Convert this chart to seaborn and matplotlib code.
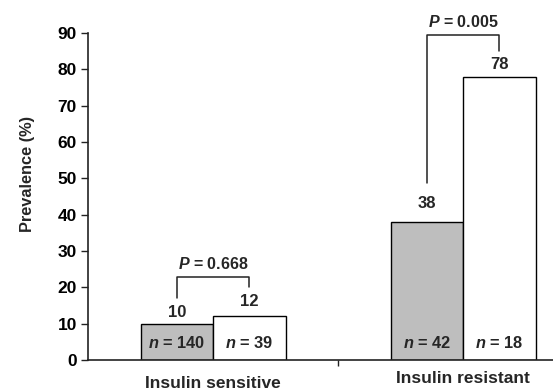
import pandas as pd
import matplotlib.pyplot as plt
import seaborn as sns

# Data
categories = ["Insulin sensitive", "Insulin resistant"]
groups = ["A", "B"]
prevalence_a = [10, 38]
prevalence_b = [12, 78]
n_a = [140, 42]
n_b = [39, 18]
p_values = ["0.668", "0.005"]

df = pd.DataFrame({
    "category": categories * 2,
    "group": [groups[0]] * 2 + [groups[1]] * 2,
    "prevalence": prevalence_a + prevalence_b,
})

sns.set_style("white")
plt.rcParams["font.family"] = ["Liberation Sans", "DejaVu Sans"]
plt.rcParams["font.weight"] = "bold"
plt.rcParams["mathtext.fontset"] = "custom"
plt.rcParams["mathtext.bfit"] = "Liberation Sans:italic:bold"
plt.rcParams["mathtext.rm"] = "Liberation Sans:bold"

fig = plt.figure(figsize=(5.53, 3.92), dpi=100)
ax = fig.add_axes([88 / 553, 32 / 392, 1 - 88 / 553, (360 - 33) / 392])

sns.barplot(data=df, x="category", y="prevalence", hue="group",
            palette=["#bebebe", "white"], width=0.58,
            edgecolor="black", linewidth=1.0, saturation=1,
            legend=False, ax=ax)

ax.set_ylim(0, 90)
ax.set_xlim(-0.5, 1.36)
ax.set_yticks(range(0, 91, 10))
ax.tick_params(axis="y", labelsize=12.5, length=5, width=1.0, direction="out",
               left=True, pad=3, colors="#222222", labelcolor="black")
ax.set_xticks([0.5])
ax.set_xticklabels([""])
ax.tick_params(axis="x", length=4, width=1.0, direction="out", bottom=True,
               colors="#222222")
for lbl in ax.get_yticklabels():
    lbl.set_fontweight("bold")

sns.despine(ax=ax)
ax.spines["left"].set_linewidth(1.2)
ax.spines["bottom"].set_linewidth(1.2)
ax.spines["left"].set_color("#222222")
ax.spines["bottom"].set_color("#222222")

ax.set_xlabel("")
ax.set_ylabel("Prevalence (%)", fontsize=11.8, fontweight="bold")
ax.yaxis.set_label_coords(-0.113, 0.569)

# bar centres from the drawn patches
bars = [p for p in ax.patches if p.get_width() > 0]
bars = sorted(bars, key=lambda p: p.get_x())
cx = [p.get_x() + p.get_width() / 2 for p in bars]
# order: sens A, sens B, res A, res B
heights = [prevalence_a[0], prevalence_b[0], prevalence_a[1], prevalence_b[1]]
n_labels = [n_a[0], n_b[0], n_a[1], n_b[1]]
label_gap = [3.2, 4.2, 5.0, 3.2]

for x, h, n, g in zip(cx, heights, n_labels, label_gap):
    ax.text(x, h + g, str(h), ha="center", va="center", fontsize=12,
            fontweight="bold")
    ax.text(x, 4.7, r"$\mathbfit{n}$ = " + str(n), ha="center", va="center",
            fontsize=11.8, fontweight="bold")

# significance brackets
bracket_top = [22.8, 89.5]
leg_left = [17, 48.7]
leg_right = [20, 85]
for i in range(2):
    xl = cx[2 * i]
    xr = cx[2 * i + 1]
    ax.plot([xl, xl, xr, xr], [leg_left[i], bracket_top[i], bracket_top[i], leg_right[i]],
            color="#222222", lw=1.1, clip_on=False)
    ax.text((xl + xr) / 2, bracket_top[i] + 3.6,
            r"$\mathbfit{P}$ = " + p_values[i], ha="center", va="center",
            fontsize=11.5, fontweight="bold", clip_on=False)

# category labels
cat_y = [-6.6, -5.1]
for i, c in enumerate(categories):
    ax.text(i, cat_y[i], c, ha="center", va="center", fontsize=12.5,
            fontweight="bold", clip_on=False)

fig.savefig("out.png", dpi=100)
